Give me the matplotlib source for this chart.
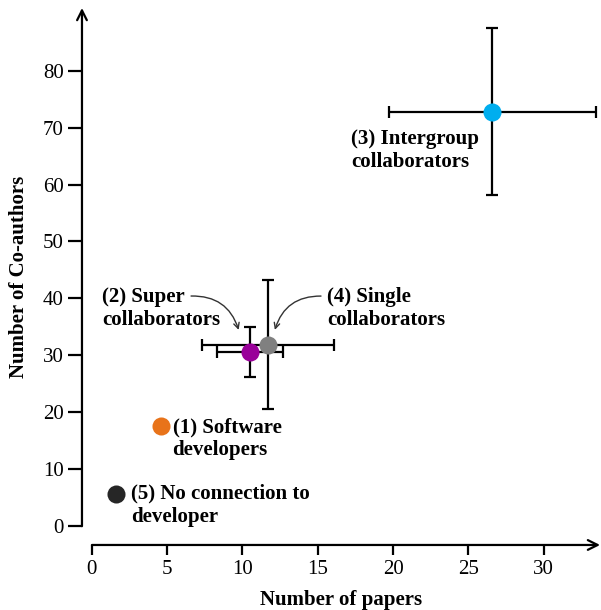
import numpy as np
import matplotlib
matplotlib.use("Agg")
import matplotlib.pyplot as plt

# groups
labels = ["(1) Software\ndevelopers", "(2) Super\ncollaborators",
          "(3) Intergroup\ncollaborators", "(4) Single\ncollaborators",
          "(5) No connection to\ndeveloper"]
papers = [4.6, 10.5, 26.6, 11.7, 1.6]
coauthors = [17.6, 30.6, 72.8, 31.9, 5.6]
papers_err = [0, 2.2, 6.9, 4.4, 0]
coauthors_err = [0, 4.4, 14.6, 11.3, 0]
colors = ["#E8731A", "#990099", "#00AEEF", "#808080", "#262626"]

xticks = [0, 5, 10, 15, 20, 25, 30]
yticks = [0, 10, 20, 30, 40, 50, 60, 70, 80]

plt.rcParams['font.family'] = ['Liberation Serif', 'DejaVu Serif']

fig = plt.figure(figsize=(6.01, 6.10), dpi=100)
ax = fig.add_axes([0.1364, 0.1066, 0.862, 0.8803])

x0, x1 = -0.66, 33.75
y0, y1 = -3.3, 91.0
ax.set_xlim(x0, x1)
ax.set_ylim(y0, y1)

# error bars first, markers on top
for i in range(len(papers)):
    if papers_err[i] > 0:
        ax.errorbar(papers[i], coauthors[i], xerr=papers_err[i], yerr=coauthors_err[i],
                    fmt='none', ecolor='black', elinewidth=1.6, capsize=4.5,
                    capthick=1.6, zorder=2)
order = [0, 4, 2, 1, 3]
for k, i in enumerate(order):
    ax.plot(papers[i], coauthors[i], 'o', ms=13, color=colors[i], mec='none',
            zorder=5 + k)

# text labels
tk = dict(fontsize=15, fontweight='bold', ha='left', va='center', linespacing=1.2)
ax.text(17.2, 66.0, labels[2], **tk)
ax.text(0.66, 38.2, labels[1], **tk)
ax.text(15.6, 38.2, labels[3], **tk)
ax.text(5.36, 15.4, labels[0], **tk)
ax.text(2.6, 3.7, labels[4], **tk)

ax.annotate("", xy=(9.8, 34.0), xytext=(6.4, 40.4),
            arrowprops=dict(arrowstyle='->', lw=1.0, color='#333333',
                            connectionstyle='arc3,rad=-0.4'))
ax.annotate("", xy=(12.1, 34.0), xytext=(15.4, 40.4),
            arrowprops=dict(arrowstyle='->', lw=1.0, color='#333333',
                            connectionstyle='arc3,rad=0.4'))

# axes drawn as arrows
for s in ax.spines.values():
    s.set_visible(False)
ax.annotate("", xy=(x1, y0), xytext=(0, y0),
            arrowprops=dict(arrowstyle='->,head_length=0.7,head_width=0.35', lw=1.6,
                            color='black', shrinkA=0, shrinkB=0),
            annotation_clip=False)
ax.annotate("", xy=(x0, y1), xytext=(x0, 0),
            arrowprops=dict(arrowstyle='->,head_length=0.7,head_width=0.35', lw=1.6,
                            color='black', shrinkA=0, shrinkB=0),
            annotation_clip=False)

ax.set_xticks(xticks)
ax.set_yticks(yticks)
ax.tick_params(axis='x', direction='out', length=7, width=1.6, labelsize=15, pad=4)
ax.tick_params(axis='y', direction='out', length=10, width=1.6, labelsize=15, pad=3)

ax.set_xlabel("Number of papers", fontsize=15, fontweight='bold', labelpad=8)
ax.set_ylabel("Number of Co-authors", fontsize=15, fontweight='bold', labelpad=10)

fig.savefig("out.png", dpi=100)
